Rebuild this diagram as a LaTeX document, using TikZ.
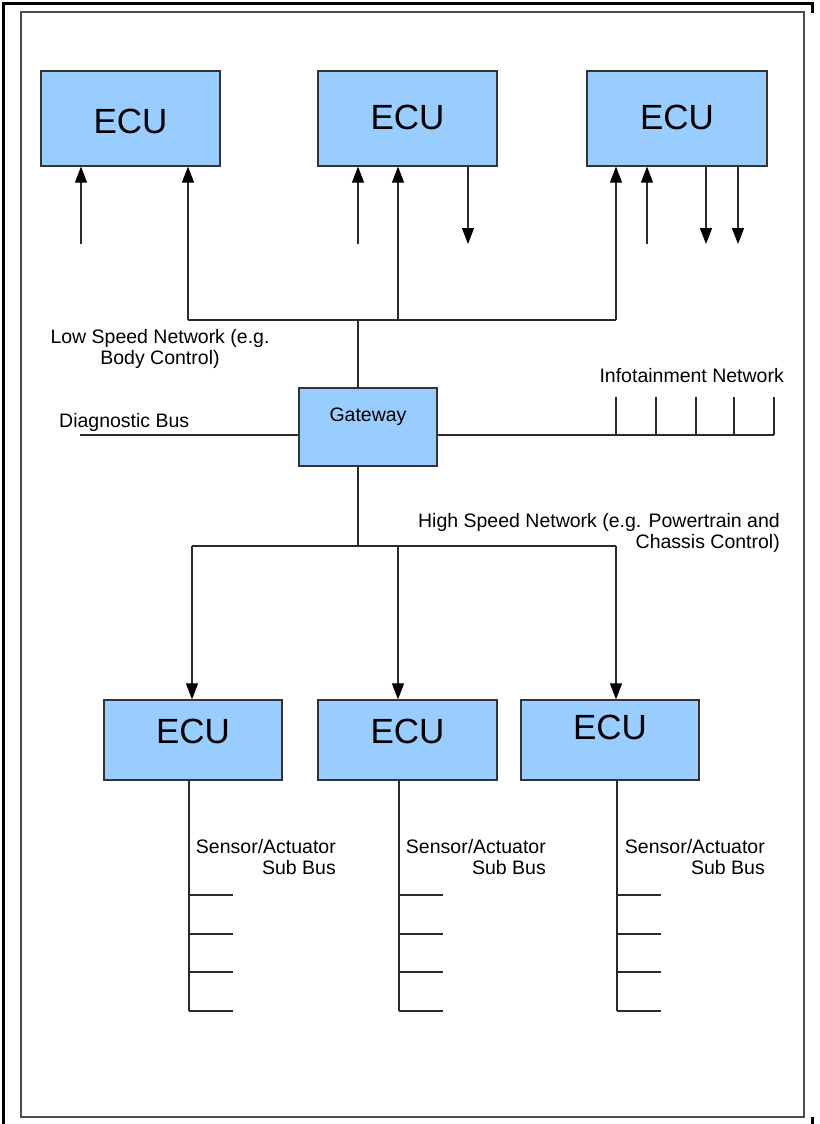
\documentclass[tikz,border=0pt]{standalone}
\usepackage{fontspec}
\setmainfont{Liberation Sans}
\usetikzlibrary{arrows.meta}
\definecolor{boxblue}{HTML}{99CCFF}
\definecolor{boxedge}{HTML}{333333}
\definecolor{wire}{HTML}{2A2A2A}

\begin{document}
\begin{tikzpicture}[x=1pt,y=-1pt,
  ecubox/.style={draw=boxedge, line width=1.2pt, fill=boxblue, inner sep=0pt,
    minimum width=179pt, minimum height=95pt,
    font=\fontsize{35}{40}\selectfont, text height=25pt, text depth=0pt},
  lowecu/.style={ecubox, minimum height=80pt},
  gwbox/.style={draw=boxedge, line width=1.2pt, fill=boxblue, inner sep=0pt,
    minimum width=138pt, minimum height=78pt,
    font=\fontsize{19.5}{21}\selectfont, text height=14pt, text depth=25pt},
  lbl/.style={inner sep=0pt, font=\fontsize{19.5}{21}\selectfont, text=black},
  wireline/.style={draw=wire, line width=1.1pt},
  arr/.style={wireline, -{Triangle[length=16pt,width=12pt,fill=black,color=black]}},
]
\useasboundingbox (0,0) rectangle (819,1124);

% page frame
\draw[line width=3pt, line cap=rect] (3,1124) -- (3,4) -- (812,4) -- (812,12);
\draw[line width=3pt] (812,1117) -- (812,1124);
\draw[black!70, line width=1.6pt] (21,12) rectangle (804,1117);

% top row of control units
\node[ecubox, text height=29pt] (ecuA) at (130.5,118.5) {ECU};
\node[ecubox, text depth=3pt] (ecuB) at (407.5,118.5) {ECU};
\node[ecubox, minimum width=180pt, text depth=3pt] (ecuC) at (677,118.5) {ECU};

% gateway
\node[gwbox] (gw) at (368,427) {Gateway};

% bottom row of control units
\node[lowecu, minimum width=178pt, text depth=18pt] (ecuD) at (193,740) {ECU};
\node[lowecu, text depth=18pt] (ecuE) at (407.5,740) {ECU};
\node[lowecu, minimum width=178pt, text depth=26pt] (ecuF) at (610,740) {ECU};

% free wire ends of the top units
\coordinate (inA) at (81,244);
\coordinate (inB) at (358,244);
\coordinate (outB) at (468,244);
\coordinate (inC) at (647,244);
\coordinate (outC1) at (706,244);
\coordinate (outC2) at (738,244);

\draw[arr] (inA) -- (inA |- ecuA.south);
\draw[arr] (inB) -- (inB |- ecuB.south);
\draw[arr] (outB |- ecuB.south) -- (outB);
\draw[arr] (inC) -- (inC |- ecuC.south);
\draw[arr] (outC1 |- ecuC.south) -- (outC1);
\draw[arr] (outC2 |- ecuC.south) -- (outC2);

% low speed network
\coordinate (ls1) at (188,320);
\coordinate (ls2) at (398,320);
\coordinate (ls3) at (616,320);
\coordinate (lsj) at (358,320);
\draw[wireline] (ls1) -- (ls3);
\draw[arr] (ls1) -- (ls1 |- ecuA.south);
\draw[arr] (ls2) -- (ls2 |- ecuB.south);
\draw[arr] (ls3) -- (ls3 |- ecuC.south);
\draw[wireline] (lsj) -- (lsj |- gw.north);

% diagnostic bus
\coordinate (diag) at (80,435);
\draw[wireline] (diag) -- (diag -| gw.west);

% infotainment network
\coordinate (info) at (774,435);
\draw[wireline] (gw.east |- info) -- (info);
\foreach \x [count=\i] in {616,656,696,734,774}{
  \coordinate (it\i) at (\x,397);
  \draw[wireline] (it\i) -- (it\i |- info);
}

% high speed network
\coordinate (hsj) at (358,546);
\coordinate (hs1) at (192,546);
\coordinate (hs2) at (398,546);
\coordinate (hs3) at (616,546);
\draw[wireline] (hsj |- gw.south) -- (hsj);
\draw[wireline] (hs1) -- (hs3);
\draw[arr] (hs1) -- (hs1 |- ecuD.north);
\draw[arr] (hs2) -- (hs2 |- ecuE.north);
\draw[arr] (hs3) -- (hs3 |- ecuF.north);

% sensor / actuator sub buses
\foreach \u/\x in {ecuD/189, ecuE/399, ecuF/617}{
  \coordinate (\u-end) at (\x,1011);
  \draw[wireline] (\u.south -| \u-end) -- (\u-end);
  \foreach \y in {895,934,972,1011}{
    \coordinate (\u-tap) at (\x+44,\y);
    \draw[wireline] (\x,\y) -- (\u-tap);
  }
}

% labels
\node[lbl, align=center, anchor=north] (lslbl) at (160,329)
  {Low Speed Network (e.g.\\Body Control)};
\node[lbl, anchor=base west] (diaglbl) at (59,427) {Diagnostic Bus};
\node[lbl, anchor=base east] (infolbl) at (784,382) {Infotainment Network};
\node[lbl, align=right, anchor=north east] (hslbl) at (780,513)
  {High Speed Network (e.g. Powertrain and\\Chassis Control)};
\node[lbl, align=right, anchor=north east] (sbD) at (336,839) {Sensor/Actuator\\Sub Bus};
\node[lbl, align=right, anchor=north east] (sbE) at (546,839) {Sensor/Actuator\\Sub Bus};
\node[lbl, align=right, anchor=north east] (sbF) at (765,839) {Sensor/Actuator\\Sub Bus};
\end{tikzpicture}
\end{document}
